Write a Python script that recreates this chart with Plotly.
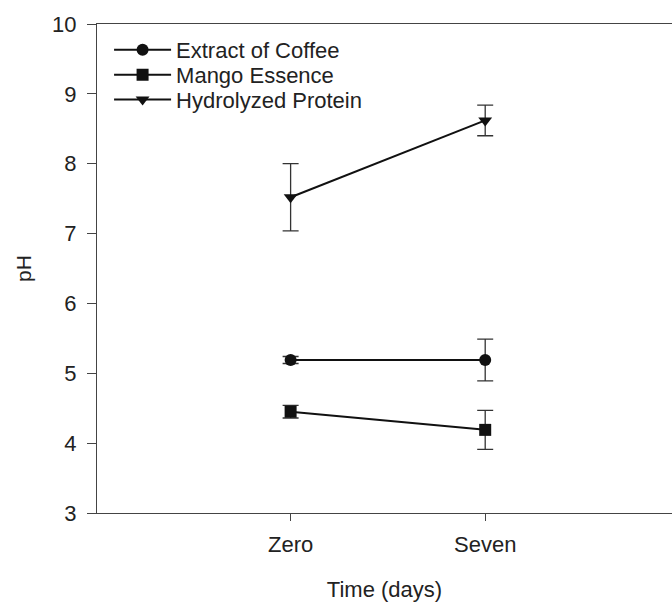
import plotly.graph_objects as go

days = ["Zero", "Seven"]
coffee = [5.19, 5.19]
coffee_err = [0.05, 0.30]
mango = [4.45, 4.19]
mango_err = [0.09, 0.28]
protein = [7.52, 8.62]
protein_err = [0.48, 0.22]

series = [
    ("Extract of Coffee", coffee, coffee_err, "circle", "legend"),
    ("Mango Essence", mango, mango_err, "square", "legend2"),
    ("Hydrolyzed Protein", protein, protein_err, "triangle-down", "legend3"),
]

fig = go.Figure()
for name, vals, errs, sym, leg in series:
    fig.add_trace(go.Scatter(
        x=[0, 1], y=vals, name=name, mode="lines+markers", legend=leg,
        line=dict(color="#111111", width=2),
        marker=dict(symbol=sym, size=12, color="#111111"),
        error_y=dict(type="data", array=errs, visible=True, color="#333333", thickness=1.3, width=8),
    ))

leg_common = dict(x=0.021, xanchor="left", yanchor="middle", bgcolor="rgba(0,0,0,0)",
                  itemwidth=57, font=dict(size=22), borderwidth=0)

fig.update_layout(
    width=672, height=603,
    margin=dict(l=97, r=0, t=24, b=90),
    plot_bgcolor="white", paper_bgcolor="white",
    font=dict(family="Liberation Sans, Arial, sans-serif", size=22, color="#222222"),
    showlegend=True,
    legend=dict(y=0.947, **leg_common),
    legend2=dict(y=0.896, **leg_common),
    legend3=dict(y=0.845, **leg_common),
)
fig.update_xaxes(
    range=[-0.995, 1.96], tickvals=[0, 1], ticktext=days,
    showline=True, linecolor="#444444", linewidth=1.3, mirror=True,
    ticks="outside", ticklen=7, tickcolor="#444444", showgrid=False, zeroline=False,
    tickfont=dict(size=22), ticklabelstandoff=4,
    title=dict(text="Time (days)", standoff=26, font=dict(size=22)),
)
fig.update_yaxes(
    range=[3, 10], dtick=1,
    showline=True, linecolor="#444444", linewidth=1.3,
    ticks="outside", ticklen=9, tickcolor="#444444", showgrid=False, zeroline=False,
    tickfont=dict(size=22), ticklabelstandoff=6,
    title=dict(text="pH", standoff=14, font=dict(size=21)),
)
fig.write_html("out.html", config={"displayModeBar": False},
               post_script="document.body.style.margin='0';")
